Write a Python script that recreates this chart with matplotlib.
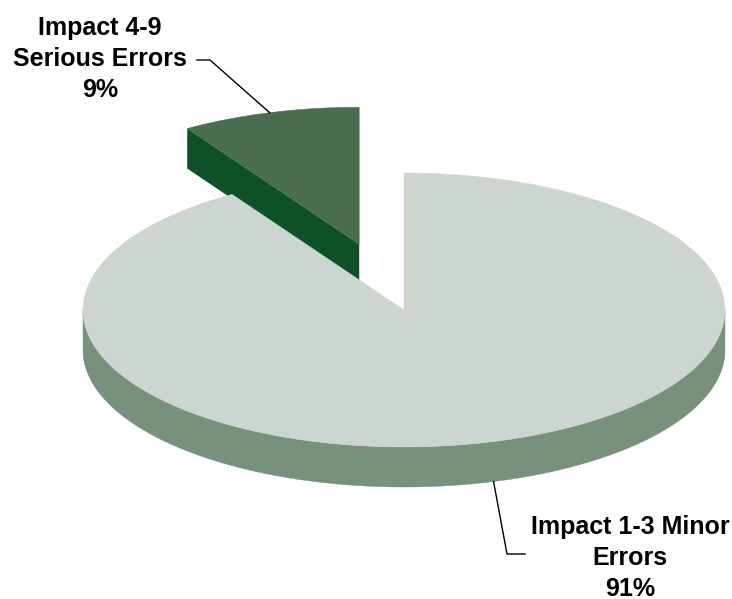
import numpy as np
import matplotlib
matplotlib.use("Agg")
import matplotlib.pyplot as plt
from matplotlib.patches import Polygon

# Error impact shares
categories = ["Impact 1-3 Minor\nErrors", "Impact 4-9\nSerious Errors"]
shares = [91, 9]
explode = [0.0, 0.5]

top_colors = ["#CDD6CE", "#486E4F"]
side_colors = ["#78917A", "#0E5129"]

W, H = 732, 599
CX, CY = 404, 310          # centre of the pie's top face (pixels)
RX, RY = 321, 137          # ellipse radii of the tilted disc
DEPTH = 40                 # thickness of the disc

fig = plt.figure(figsize=(W / 100, H / 100), dpi=100)
ax = fig.add_axes([0, 0, 1, 1])
ax.set_xlim(0, W)
ax.set_ylim(H, 0)
ax.axis("off")

total = float(sum(shares))

# slices run clockwise from 12 o'clock; store each as a ccw range [a0, a1]
slices = []
start = 90.0
for i, v in enumerate(shares):
    sweep = 360.0 * v / total
    a0, a1 = start - sweep, start
    mid = np.radians((a0 + a1) / 2)
    off = (explode[i] * RX * np.cos(mid), -explode[i] * RY * np.sin(mid))
    slices.append(dict(i=i, a0=a0, a1=a1, mid=mid, off=off))
    start -= sweep


def pt(theta_deg, off, r=1.0, dz=0.0):
    t = np.radians(theta_deg)
    return (CX + off[0] + r * RX * np.cos(t), CY + off[1] - r * RY * np.sin(t) + dz)


def arc(a0, a1, off, dz=0.0, n=200):
    return [pt(t, off, dz=dz) for t in np.linspace(a0, a1, n)]


# paint back slices first
for s in sorted(slices, key=lambda s: -np.sin(s["mid"])):
    i, a0, a1, off = s["i"], s["a0"], s["a1"], s["off"]

    # radial cut faces that turn toward the viewer
    for edge, normal in ((a0, a0 - 90), (a1, a1 + 90)):
        if np.sin(np.radians(normal)) < -1e-6:
            c_top = pt(0, off, r=0)
            e_top = pt(edge, off)
            poly = [c_top, e_top, (e_top[0], e_top[1] + DEPTH), (c_top[0], c_top[1] + DEPTH)]
            ax.add_patch(Polygon(poly, closed=True, facecolor=side_colors[i],
                                 edgecolor="none", zorder=2))

    # outer wall on the front half of the disc
    for k in (-1, 0, 1):
        lo, hi = max(a0, -180 + 360 * k), min(a1, 0 + 360 * k)
        if hi > lo:
            top = arc(lo, hi, off)
            bot = arc(hi, lo, off, dz=DEPTH)
            ax.add_patch(Polygon(top + bot, closed=True, facecolor=side_colors[i],
                                 edgecolor=side_colors[i], linewidth=0.3, zorder=2))

    # top face
    face = [pt(0, off, r=0)] + arc(a0, a1, off)
    ax.add_patch(Polygon(face, closed=True, facecolor=top_colors[i],
                         edgecolor=top_colors[i], linewidth=0.3, zorder=3))

font = dict(family=["Liberation Sans", "DejaVu Sans"], weight="bold", size=18, color="black")


def label_text(i):
    return f"{categories[i]}\n{shares[i] / total * 100:.0f}%"


# serious errors label with leader to the top of its arc
s = slices[1]
anchor = pt(np.degrees(s["mid"]), s["off"])
ax.plot([anchor[0], 210, 197], [anchor[1], 60, 60], color="black", lw=1.0, zorder=4)
ax.text(100, 59, label_text(1), ha="center", va="center", multialignment="center",
        linespacing=1.38, **font)

# minor errors label with leader to the bottom rim of its wall
s = slices[0]
anchor = pt(np.degrees(s["mid"]), s["off"], dz=DEPTH)
ax.plot([anchor[0], 507, 525], [anchor[1], 554, 554], color="black", lw=1.0, zorder=4)
ax.text(630, 558, label_text(0), ha="center", va="center", multialignment="center",
        linespacing=1.38, **font)

fig.savefig("out.png", dpi=100)
